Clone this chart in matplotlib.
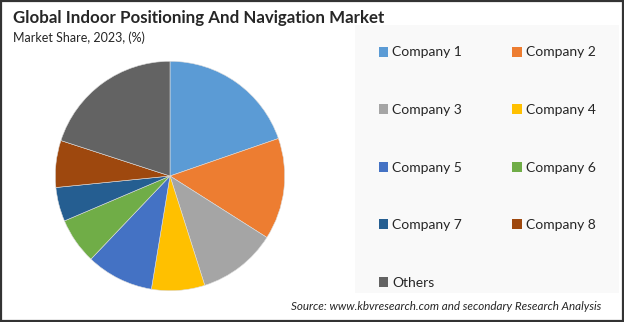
import matplotlib.pyplot as plt
from matplotlib.patches import Rectangle, Patch

# -------------------------
# Data
# -------------------------
companies = ["Company 1", "Company 2", "Company 3", "Company 4", "Company 5",
             "Company 6", "Company 7", "Company 8", "Others"]
shares = [19.7, 14.3, 11.1, 7.5, 9.5, 6.5, 4.8, 6.6, 20.0]
colors = ["#5B9BD5", "#ED7D31", "#A5A5A5", "#FFC000", "#4472C4",
          "#70AD47", "#255E91", "#9E480E", "#636363"]

plt.rcParams["font.family"] = ["Lato", "DejaVu Sans"]

W, H = 624, 322
fig = plt.figure(figsize=(W / 100, H / 100), dpi=100)
fig.patch.set_facecolor("white")

# light panel behind the legend
fig.patches.append(Rectangle((355 / W, 1 - 293 / H), (619 - 355) / W, (293 - 25) / H,
                             transform=fig.transFigure, facecolor="#f9f9f9",
                             edgecolor="none", zorder=0))
# outer border
fig.patches.append(Rectangle((0.0015, 0.003), 0.997, 0.994, transform=fig.transFigure,
                             facecolor="none", edgecolor="#333333", linewidth=1.6, zorder=5))

# -------------------------
# Pie
# -------------------------
cx, cy, r = 170, 176, 117
ax = fig.add_axes([(cx - r) / W, 1 - (cy + r) / H, 2 * r / W, 2 * r / H])
wedges, _ = ax.pie(shares, colors=colors, startangle=90, counterclock=False,
                   wedgeprops=dict(linewidth=0.4, edgecolor="#dddddd"))
ax.set_aspect("equal")
ax.set_xlim(-1.02, 1.02)
ax.set_ylim(-1.02, 1.02)
ax.axis("off")

# -------------------------
# Titles
# -------------------------
fig.text(13 / W, 1 - 18 / H, "Global Indoor Positioning And Navigation Market",
         fontsize=12.2, fontweight="bold", color="#262626", va="center", ha="left")
fig.text(13 / W, 1 - 38 / H, "Market Share, 2023, (%)",
         fontsize=9, color="#262626", va="center", ha="left")
fig.text(601 / W, 1 - 306 / H,
         "Source: www.kbvresearch.com and secondary Research Analysis",
         fontsize=8.4, style="italic", color="#262626", va="center", ha="right")

# -------------------------
# Legend (row-major order in 2 columns)
# -------------------------
order = [0, 2, 4, 6, 8, 1, 3, 5, 7]
handles = [Patch(facecolor=colors[i], edgecolor="none") for i in order]
labels = [companies[i] for i in order]
fig.legend(handles, labels, ncol=2, loc="upper left",
           bbox_to_anchor=(366 / W, 1 - 34 / H), frameon=False,
           fontsize=10, handlelength=0.7, handleheight=0.7, handletextpad=0.3,
           labelspacing=3.28, columnspacing=3.6, labelcolor="#262626")

fig.savefig("out.png", dpi=100)
